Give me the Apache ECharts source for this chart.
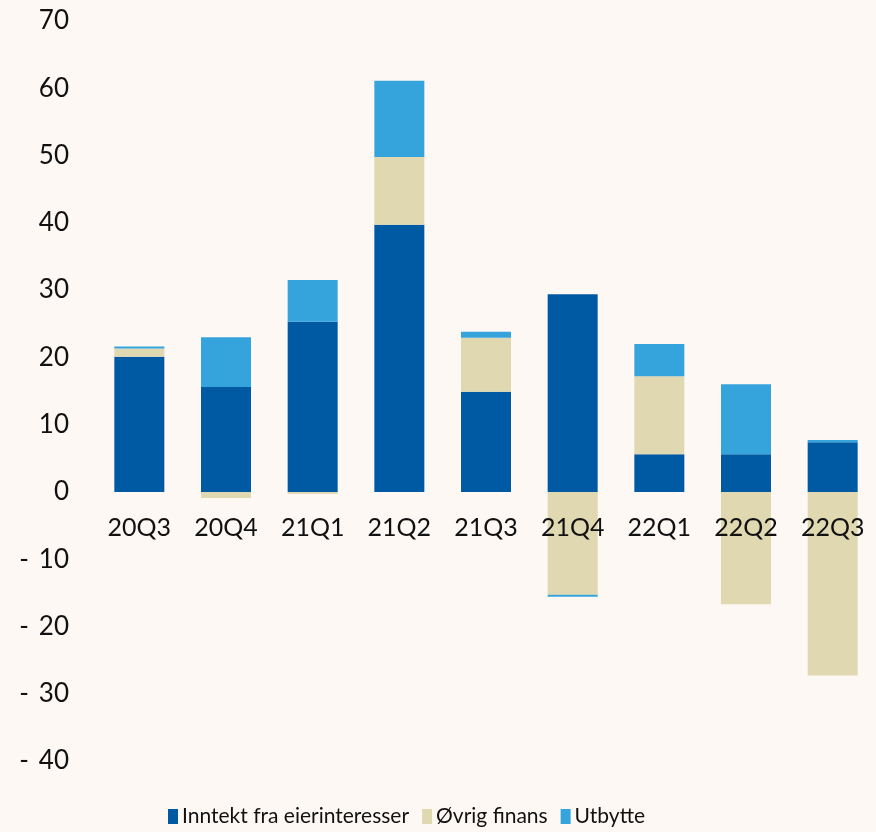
<!DOCTYPE html>
<html>
<head>
    <meta charset="utf-8" />
    <title>Chart</title>
    <script src="https://cdn.jsdelivr.net/npm/echarts@6/dist/echarts.min.js"></script>
    <style>
        html, body { margin: 0; padding: 0; background: #fdf8f4; }
        #chart { width: 876px; height: 832px; }
    </style>
</head>
<body>
    <div id="chart"></div>
    <script>
        var categories = ['20Q3', '20Q4', '21Q1', '21Q2', '21Q3', '21Q4', '22Q1', '22Q2', '22Q3'];
        var inntekt = [20.1, 15.6, 25.3, 39.7, 14.9, 29.4, 5.6, 5.6, 7.4];
        var ovrig = [1.2, -0.9, -0.3, 10.1, 8.0, -15.3, 11.6, -16.7, -27.3];
        var utbytte = [0.3, 7.4, 6.2, 11.3, 0.9, -0.3, 4.8, 10.4, 0.3];

        var font = 'Lato';
        var chart = echarts.init(document.getElementById('chart'));

        // grid is 740px high for 110 units; x labels sit at the zero line (40 units up)
        var zeroOffset = -Math.round(740 * 40 / 110);

        var option = {
            backgroundColor: '#fdf8f4',
            textStyle: { fontFamily: font },
            animation: false,
            grid: { left: 96, right: -8, top: 21, bottom: 71, containLabel: false },
            legend: {
                bottom: 0,
                left: 163,
                itemWidth: 10,
                itemHeight: 15,
                itemGap: 13,
                icon: 'rect',
                textStyle: { fontFamily: font, fontSize: 21, color: '#111', padding: [0, 0, 0, -1] },
                data: ['Inntekt fra eierinteresser', 'Øvrig finans', 'Utbytte']
            },
            xAxis: {
                type: 'category',
                data: categories,
                z: 10,
                position: 'bottom',
                offset: zeroOffset,
                axisLine: { show: false, onZero: false },
                axisTick: { show: false },
                axisLabel: { fontFamily: font, fontSize: 25, color: '#111', margin: 23 }
            },
            yAxis: {
                type: 'value',
                min: -40,
                max: 70,
                interval: 10,
                splitLine: { show: false },
                axisLine: { show: false },
                axisTick: { show: false },
                axisLabel: {
                    fontFamily: font, fontSize: 26, color: '#111', margin: 27,
                    formatter: function (v) { return v < 0 ? '- \u2009' + Math.abs(v) : String(v); }
                }
            },
            series: [
                { name: 'Inntekt fra eierinteresser', type: 'bar', stack: 'a', barWidth: 50, data: inntekt, itemStyle: { color: '#005aa3' } },
                { name: 'Øvrig finans', type: 'bar', stack: 'a', barWidth: 50, data: ovrig, itemStyle: { color: '#e0d8b0' } },
                { name: 'Utbytte', type: 'bar', stack: 'a', barWidth: 50, data: utbytte, itemStyle: { color: '#35a4dc' } }
            ]
        };

        chart.setOption(option);
    </script>
</body>
</html>
